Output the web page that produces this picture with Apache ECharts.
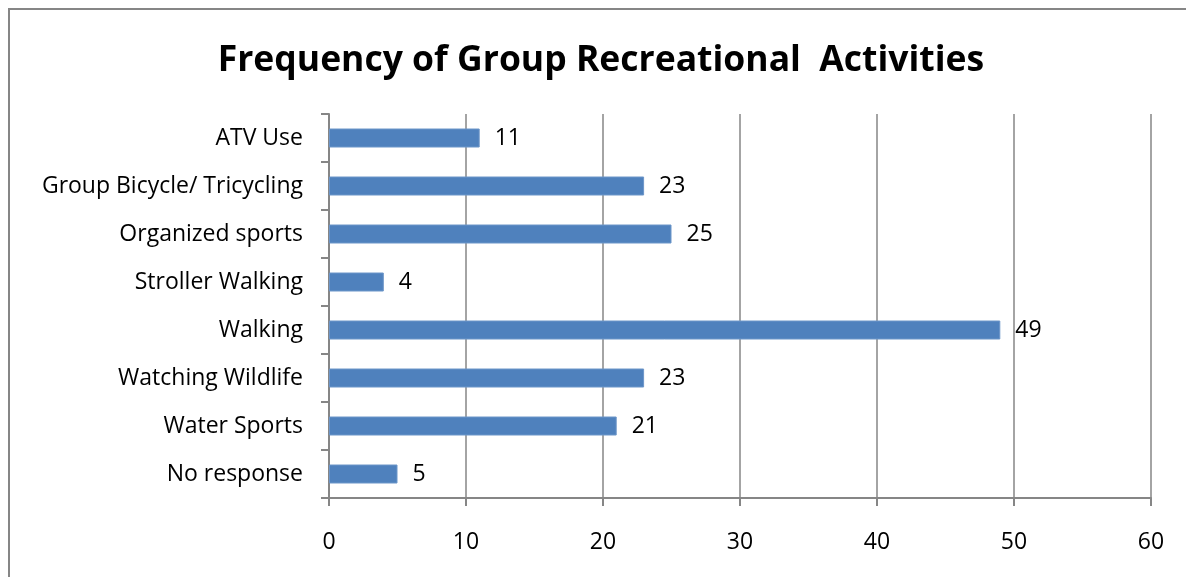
<!DOCTYPE html>
<html>
<head>
<meta charset="utf-8">
<script src="https://cdn.jsdelivr.net/npm/echarts@6/dist/echarts.min.js"></script>
<style>
  html, body { margin: 0; padding: 0; background: #fff; }
  #chart { width: 1186px; height: 577px; }
</style>
</head>
<body>
<div id="chart"></div>
<script>
// categories top to bottom as in the picture
const activities = [
  "ATV Use",
  "Group Bicycle/ Tricycling",
  "Organized sports",
  "Stroller Walking",
  "Walking",
  "Watching Wildlife",
  "Water Sports",
  "No response"
];
const counts = [11, 23, 25, 4, 49, 23, 21, 5];
const xTicks = [0, 10, 20, 30, 40, 50, 60];

const fontName = "'Open Sans', sans-serif";
const grey = "#868686";

const chart = echarts.init(document.getElementById("chart"));
chart.setOption({
  animation: false,
  title: {
    text: "Frequency of Group Recreational  Activities",
    left: 596,
    top: 38,
    textAlign: "center",
    textStyle: { fontFamily: fontName, fontSize: 35.5, fontWeight: "bold", color: "#000" }
  },
  graphic: [{
    type: "polyline",
    shape: { points: [[9, 600], [9, 9], [1200, 9]] },
    style: { fill: null, stroke: grey, lineWidth: 2 },
    silent: true
  }],
  grid: { left: 329, right: 35, top: 114, bottom: 79 },
  xAxis: {
    type: "value",
    min: xTicks[0],
    max: xTicks[xTicks.length - 1],
    interval: 10,
    axisLine: { show: true, lineStyle: { color: grey, width: 2 } },
    axisTick: { show: true, length: 8, lineStyle: { color: grey, width: 2 } },
    splitLine: { show: true, lineStyle: { color: grey, width: 1.5 } },
    axisLabel: { fontFamily: fontName, fontSize: 23, color: "#000", margin: 33 }
  },
  yAxis: {
    type: "category",
    inverse: true,
    data: activities,
    axisLine: { show: true, lineStyle: { color: grey, width: 2 } },
    axisTick: { show: true, length: 8, lineStyle: { color: grey, width: 2 } },
    axisLabel: { fontFamily: fontName, fontSize: 23, color: "#000", margin: 26 }
  },
  series: [{
    type: "bar",
    data: counts,
    barWidth: 19,
    itemStyle: { color: "#4F81BD", borderColor: "#6d96c9", borderWidth: 1 },
    label: {
      show: true,
      position: "right",
      distance: 15,
      fontFamily: fontName,
      fontSize: 23,
      color: "#000"
    }
  }]
});
</script>
</body>
</html>
